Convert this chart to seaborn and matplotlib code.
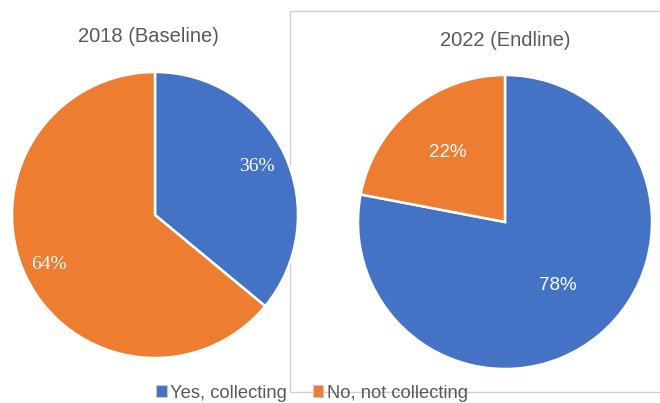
import matplotlib
matplotlib.use("Agg")
import matplotlib.pyplot as plt
import seaborn as sns
import numpy as np
from matplotlib.patches import Rectangle, Patch

categories = ["Yes, collecting", "No, not collecting"]
titles = ["2018 (Baseline)", "2022 (Endline)"]
values_2018 = [36, 64]
values_2022 = [78, 22]

sns.set_theme(style="white")
plt.rcParams['font.family'] = ['Liberation Sans', 'DejaVu Sans']
colors = sns.color_palette(["#4472C4", "#ED7D31"])

W, H = 660, 403
fig = plt.figure(figsize=(W / 100, H / 100), dpi=100)

def add_ax(cx, cy, r):
    return fig.add_axes([(cx - r) / W, (H - cy - r) / H, 2 * r / W, 2 * r / H])

# right panel border
fig.add_artist(Rectangle((290 / W, (H - 392) / H), (W - 290 + 5) / W, (392 - 11) / H,
                         transform=fig.transFigure, fill=False, edgecolor="#D0D0D0", lw=1.0,
                         zorder=0))

def draw(ax, vals, label_font, dists):
    wedges, _, autotexts = ax.pie(vals, colors=colors, startangle=90, counterclock=False,
                                  autopct=lambda p: f"{p:.0f}%", pctdistance=0.7,
                                  wedgeprops=dict(edgecolor="white", linewidth=1.8),
                                  textprops=dict(color="white"))
    for w, t, d in zip(wedges, autotexts, dists):
        ang = np.deg2rad((w.theta1 + w.theta2) / 2)
        t.set_position((d * np.cos(ang), d * np.sin(ang)))
        t.set_fontfamily(label_font[0])
        t.set_fontsize(label_font[1])
    ax.set_xlim(-1.0, 1.0)
    ax.set_ylim(-1.0, 1.0)
    ax.set_aspect("equal")
    ax.axis("off")
    return wedges

ax1 = add_ax(155, 215, 143)
draw(ax1, values_2018, ("Liberation Serif", 14), [0.79, 0.82])
ax2 = add_ax(505, 222, 147)
draw(ax2, values_2022, ("Liberation Sans", 13.5), [0.56, 0.61])

fig.text(148 / W, 1 - 36 / H, titles[0], ha="center", va="center", fontsize=14.5, color="#595959")
fig.text(505 / W, 1 - 40 / H, titles[1], ha="center", va="center", fontsize=14.5, color="#595959")

handles = [Patch(facecolor=c, edgecolor="#C8C8C8", lw=0.8) for c in colors]
leg = fig.legend(handles, categories, loc="center", bbox_to_anchor=(312 / W, 1 - 393 / H), ncol=2,
                 frameon=False, fontsize=13.2, handlelength=0.55, handleheight=0.55,
                 handletextpad=0.2, columnspacing=1.4, labelcolor="#595959")

fig.savefig("out.png", dpi=100, facecolor="white")
